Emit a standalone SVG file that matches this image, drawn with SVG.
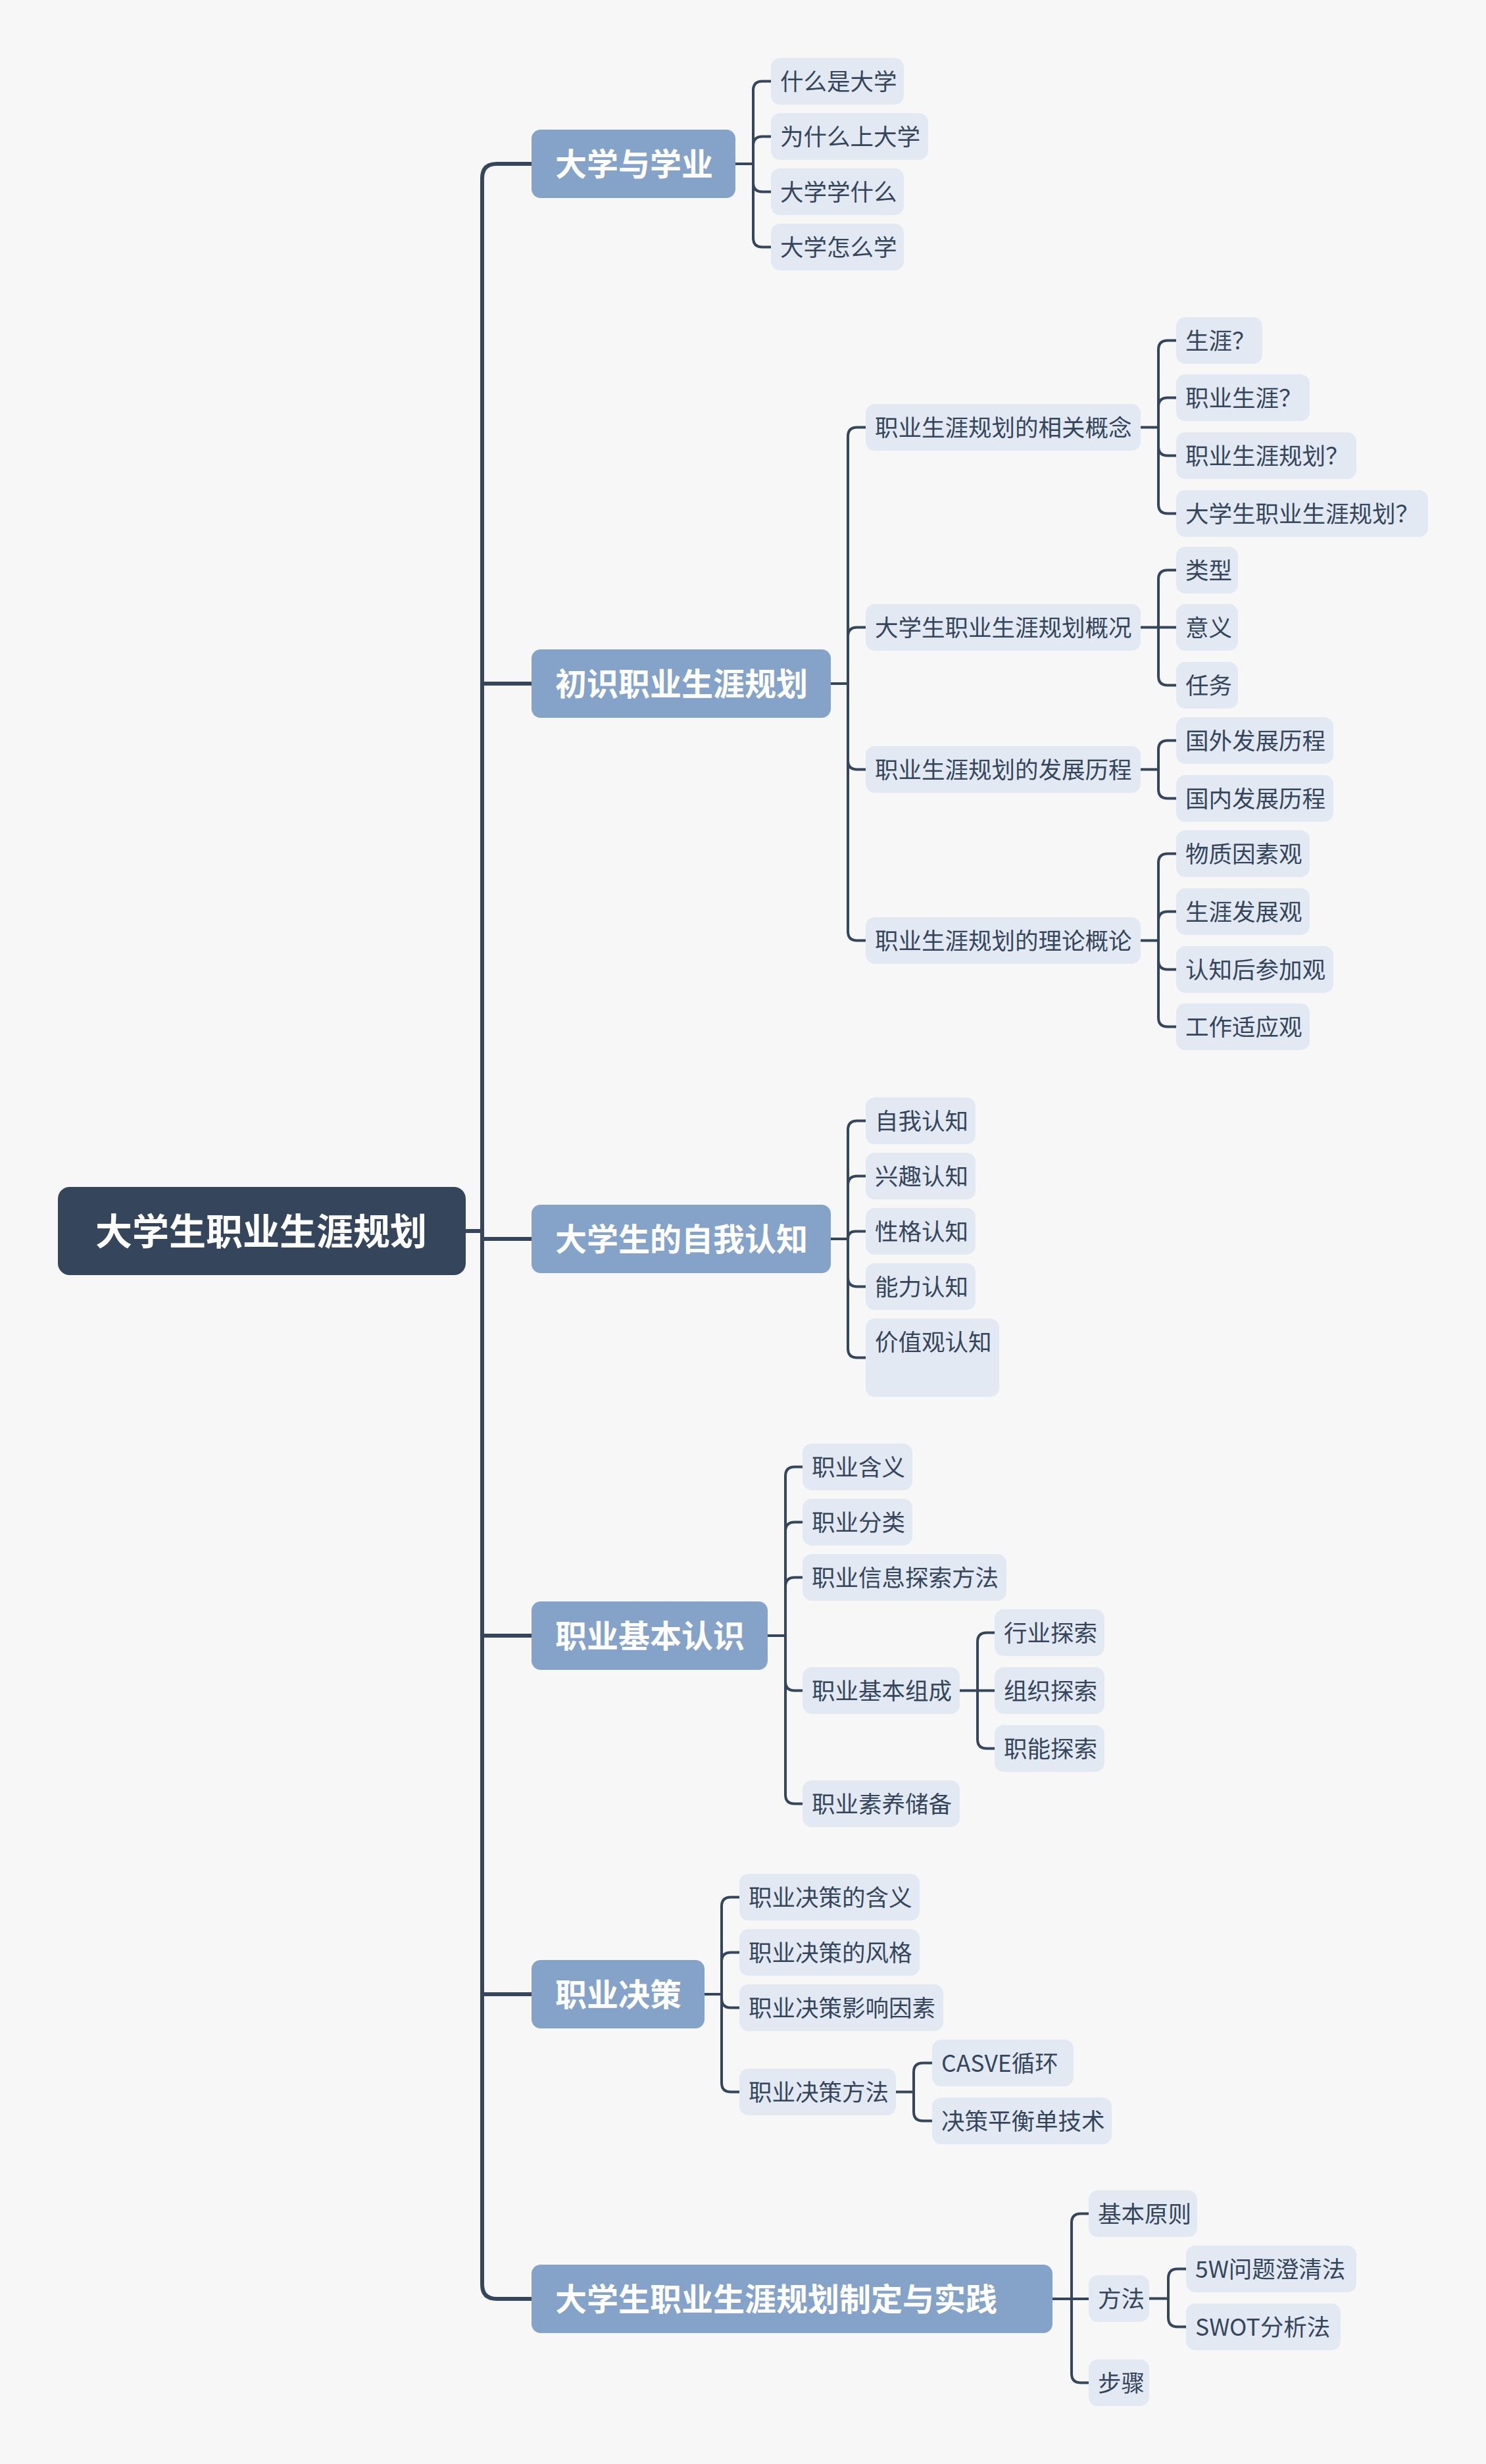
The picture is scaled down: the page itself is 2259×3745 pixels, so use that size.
<svg xmlns="http://www.w3.org/2000/svg" width="2259" height="3745" viewBox="0 0 2259 3745">
<style>
.bg{fill:#f7f7f7}
.root rect{fill:#35465c}
.root text{fill:#ffffff;font-size:56px;font-weight:700}
.l1 rect{fill:#85a2c9}
.l1 text{fill:#ffffff;font-size:48px;font-weight:700}
.lf rect{fill:#e3e9f2}
.lf text{fill:#35465c;font-size:35.5px}
text{font-family:"Noto Sans CJK SC","Noto Sans",sans-serif}
.trunk path{fill:none;stroke:#35465c;stroke-width:6;stroke-linecap:butt}
.br path{fill:none;stroke:#35465c;stroke-width:4}
</style>
<rect class="bg" x="0" y="0" width="2259" height="3745"/>
<g id="connectors">
<g class="trunk">
<path d="M808 249H755Q733 249 733 271V3472Q733 3494 755 3494H808"/>
<path d="M733 1039H808M733 1883H808M733 2486H808M733 3031H808M708 1871H733"/>
</g>
<g class="br">
<path d="M1118 249H1145M1145 249V137.5Q1145 123.5 1159 123.5H1172M1145 249V221.5Q1145 207.5 1159 207.5H1172M1145 249V277.5Q1145 291.5 1159 291.5H1172M1145 249V361.5Q1145 375.5 1159 375.5H1172"/>
<path d="M1263 1039H1289M1289 1039V663.5Q1289 649.5 1303 649.5H1316M1289 1039V967.5Q1289 953.5 1303 953.5H1316M1289 1039V1155.5Q1289 1169.5 1303 1169.5H1316M1289 1039V1415.5Q1289 1429.5 1303 1429.5H1316"/>
<path d="M1734 649.5H1761M1761 649.5V531.5Q1761 517.5 1775 517.5H1788M1761 649.5V618.5Q1761 604.5 1775 604.5H1788M1761 649.5V678.5Q1761 692.5 1775 692.5H1788M1761 649.5V766.5Q1761 780.5 1775 780.5H1788"/>
<path d="M1734 953.5H1761M1761 953.5V880.5Q1761 866.5 1775 866.5H1788M1761 953.5H1788M1761 953.5V1027.5Q1761 1041.5 1775 1041.5H1788"/>
<path d="M1734 1169.5H1761M1761 1169.5V1139.5Q1761 1125.5 1775 1125.5H1788M1761 1169.5V1199.5Q1761 1213.5 1775 1213.5H1788"/>
<path d="M1734 1429.5H1761M1761 1429.5V1311.5Q1761 1297.5 1775 1297.5H1788M1761 1429.5V1399.5Q1761 1385.5 1775 1385.5H1788M1761 1429.5V1459.5Q1761 1473.5 1775 1473.5H1788M1761 1429.5V1546.5Q1761 1560.5 1775 1560.5H1788"/>
<path d="M1263 1883H1289M1289 1883V1717.5Q1289 1703.5 1303 1703.5H1316M1289 1883V1801.5Q1289 1787.5 1303 1787.5H1316M1289 1883Q1289 1871.5 1300.5 1871.5H1316M1289 1883V1941.5Q1289 1955.5 1303 1955.5H1316M1289 1883V2049.5Q1289 2063.5 1303 2063.5H1316"/>
<path d="M1167 2486H1194M1194 2486V2243.5Q1194 2229.5 1208 2229.5H1220M1194 2486V2327.5Q1194 2313.5 1208 2313.5H1220M1194 2486V2411.5Q1194 2397.5 1208 2397.5H1220M1194 2486V2555.5Q1194 2569.5 1208 2569.5H1220M1194 2486V2727.5Q1194 2741.5 1208 2741.5H1220"/>
<path d="M1459 2569.5H1486M1486 2569.5V2495.5Q1486 2481.5 1500 2481.5H1512M1486 2569.5H1512M1486 2569.5V2643.5Q1486 2657.5 1500 2657.5H1512"/>
<path d="M1071 3031H1097M1097 3031V2897.5Q1097 2883.5 1111 2883.5H1124M1097 3031V2981.5Q1097 2967.5 1111 2967.5H1124M1097 3031V3037.5Q1097 3051.5 1111 3051.5H1124M1097 3031V3165.5Q1097 3179.5 1111 3179.5H1124"/>
<path d="M1362 3179.5H1389M1389 3179.5V3149.5Q1389 3135.5 1403 3135.5H1417M1389 3179.5V3209.5Q1389 3223.5 1403 3223.5H1417"/>
<path d="M1600 3494H1629M1629 3494V3378.5Q1629 3364.5 1643 3364.5H1655M1629 3494H1655M1629 3494V3607.5Q1629 3621.5 1643 3621.5H1655"/>
<path d="M1747 3493.5H1776M1776 3493.5V3462.5Q1776 3448.5 1790 3448.5H1803M1776 3493.5V3522.5Q1776 3536.5 1790 3536.5H1803"/>
</g>
</g>
<g id="root" class="root"><rect x="88" y="1804" width="620" height="134" rx="18"/><text x="145" y="1892">大学生职业生涯规划</text></g>
<g id="t1" class="l1"><rect x="808" y="197" width="310" height="104" rx="14"/><text x="844" y="267">大学与学业</text></g>
<g id="t2" class="l1"><rect x="808" y="987" width="455" height="104" rx="14"/><text x="844" y="1057">初识职业生涯规划</text></g>
<g id="t3" class="l1"><rect x="808" y="1831" width="455" height="104" rx="14"/><text x="844" y="1901">大学生的自我认知</text></g>
<g id="t4" class="l1"><rect x="808" y="2434" width="359" height="104" rx="14"/><text x="844" y="2504">职业基本认识</text></g>
<g id="t5" class="l1"><rect x="808" y="2979" width="263" height="104" rx="14"/><text x="844" y="3049">职业决策</text></g>
<g id="t6" class="l1"><rect x="808" y="3442" width="792" height="104" rx="14"/><text x="844" y="3512">大学生职业生涯规划制定与实践</text></g>
<g id="t1a" class="lf"><rect x="1172" y="88" width="202" height="71" rx="14"/><text x="1186" y="137">什么是大学</text></g>
<g id="t1b" class="lf"><rect x="1172" y="172" width="239" height="71" rx="14"/><text x="1186" y="221">为什么上大学</text></g>
<g id="t1c" class="lf"><rect x="1172" y="256" width="202" height="71" rx="14"/><text x="1186" y="305">大学学什么</text></g>
<g id="t1d" class="lf"><rect x="1172" y="340" width="202" height="71" rx="14"/><text x="1186" y="389">大学怎么学</text></g>
<g id="t2a" class="lf"><rect x="1316" y="614" width="418" height="71" rx="14"/><text x="1330" y="663">职业生涯规划的相关概念</text></g>
<g id="t2b" class="lf"><rect x="1316" y="918" width="418" height="71" rx="14"/><text x="1330" y="967">大学生职业生涯规划概况</text></g>
<g id="t2c" class="lf"><rect x="1316" y="1134" width="418" height="71" rx="14"/><text x="1330" y="1183">职业生涯规划的发展历程</text></g>
<g id="t2d" class="lf"><rect x="1316" y="1394" width="418" height="71" rx="14"/><text x="1330" y="1443">职业生涯规划的理论概论</text></g>
<g id="t2a1" class="lf"><rect x="1788" y="482" width="131" height="71" rx="14"/><text x="1802" y="531">生涯？</text></g>
<g id="t2a2" class="lf"><rect x="1788" y="569" width="203" height="71" rx="14"/><text x="1802" y="618">职业生涯？</text></g>
<g id="t2a3" class="lf"><rect x="1788" y="657" width="274" height="71" rx="14"/><text x="1802" y="706">职业生涯规划？</text></g>
<g id="t2a4" class="lf"><rect x="1788" y="745" width="383" height="71" rx="14"/><text x="1802" y="794">大学生职业生涯规划？</text></g>
<g id="t2b1" class="lf"><rect x="1788" y="831" width="94" height="71" rx="14"/><text x="1802" y="880">类型</text></g>
<g id="t2b2" class="lf"><rect x="1788" y="918" width="94" height="71" rx="14"/><text x="1802" y="967">意义</text></g>
<g id="t2b3" class="lf"><rect x="1788" y="1006" width="94" height="71" rx="14"/><text x="1802" y="1055">任务</text></g>
<g id="t2c1" class="lf"><rect x="1788" y="1090" width="239" height="71" rx="14"/><text x="1802" y="1139">国外发展历程</text></g>
<g id="t2c2" class="lf"><rect x="1788" y="1178" width="239" height="71" rx="14"/><text x="1802" y="1227">国内发展历程</text></g>
<g id="t2d1" class="lf"><rect x="1788" y="1262" width="203" height="71" rx="14"/><text x="1802" y="1311">物质因素观</text></g>
<g id="t2d2" class="lf"><rect x="1788" y="1350" width="203" height="71" rx="14"/><text x="1802" y="1399">生涯发展观</text></g>
<g id="t2d3" class="lf"><rect x="1788" y="1438" width="239" height="71" rx="14"/><text x="1802" y="1487">认知后参加观</text></g>
<g id="t2d4" class="lf"><rect x="1788" y="1525" width="203" height="71" rx="14"/><text x="1802" y="1574">工作适应观</text></g>
<g id="t3a" class="lf"><rect x="1316" y="1668" width="167" height="71" rx="14"/><text x="1330" y="1717">自我认知</text></g>
<g id="t3b" class="lf"><rect x="1316" y="1752" width="167" height="71" rx="14"/><text x="1330" y="1801">兴趣认知</text></g>
<g id="t3c" class="lf"><rect x="1316" y="1836" width="167" height="71" rx="14"/><text x="1330" y="1885">性格认知</text></g>
<g id="t3d" class="lf"><rect x="1316" y="1920" width="167" height="71" rx="14"/><text x="1330" y="1969">能力认知</text></g>
<g id="t3e" class="lf"><rect x="1316" y="2004" width="203" height="119" rx="14"/><text x="1330" y="2053">价值观认知</text></g>
<g id="t4a" class="lf"><rect x="1220" y="2194" width="167" height="71" rx="14"/><text x="1234" y="2243">职业含义</text></g>
<g id="t4b" class="lf"><rect x="1220" y="2278" width="167" height="71" rx="14"/><text x="1234" y="2327">职业分类</text></g>
<g id="t4c" class="lf"><rect x="1220" y="2362" width="310" height="71" rx="14"/><text x="1234" y="2411">职业信息探索方法</text></g>
<g id="t4d" class="lf"><rect x="1220" y="2534" width="239" height="71" rx="14"/><text x="1234" y="2583">职业基本组成</text></g>
<g id="t4e" class="lf"><rect x="1220" y="2706" width="239" height="71" rx="14"/><text x="1234" y="2755">职业素养储备</text></g>
<g id="t4d1" class="lf"><rect x="1512" y="2446" width="167" height="71" rx="14"/><text x="1526" y="2495">行业探索</text></g>
<g id="t4d2" class="lf"><rect x="1512" y="2534" width="167" height="71" rx="14"/><text x="1526" y="2583">组织探索</text></g>
<g id="t4d3" class="lf"><rect x="1512" y="2622" width="167" height="71" rx="14"/><text x="1526" y="2671">职能探索</text></g>
<g id="t5a" class="lf"><rect x="1124" y="2848" width="274" height="71" rx="14"/><text x="1138" y="2897">职业决策的含义</text></g>
<g id="t5b" class="lf"><rect x="1124" y="2932" width="274" height="71" rx="14"/><text x="1138" y="2981">职业决策的风格</text></g>
<g id="t5c" class="lf"><rect x="1124" y="3016" width="310" height="71" rx="14"/><text x="1138" y="3065">职业决策影响因素</text></g>
<g id="t5d" class="lf"><rect x="1124" y="3144" width="238" height="71" rx="14"/><text x="1138" y="3193">职业决策方法</text></g>
<g id="t5d1" class="lf"><rect x="1417" y="3100" width="215" height="71" rx="14"/><text x="1431" y="3149">CASVE循环</text></g>
<g id="t5d2" class="lf"><rect x="1417" y="3188" width="273" height="71" rx="14"/><text x="1431" y="3237">决策平衡单技术</text></g>
<g id="t6a" class="lf"><rect x="1655" y="3329" width="165" height="71" rx="14"/><text x="1669" y="3378">基本原则</text></g>
<g id="t6b" class="lf"><rect x="1655" y="3458" width="92" height="71" rx="14"/><text x="1669" y="3507">方法</text></g>
<g id="t6c" class="lf"><rect x="1655" y="3586" width="92" height="71" rx="14"/><text x="1669" y="3635">步骤</text></g>
<g id="t6b1" class="lf"><rect x="1803" y="3413" width="259" height="71" rx="14"/><text x="1817" y="3462">5W问题澄清法</text></g>
<g id="t6b2" class="lf"><rect x="1803" y="3501" width="235" height="71" rx="14"/><text x="1817" y="3550">SWOT分析法</text></g>
</svg>
